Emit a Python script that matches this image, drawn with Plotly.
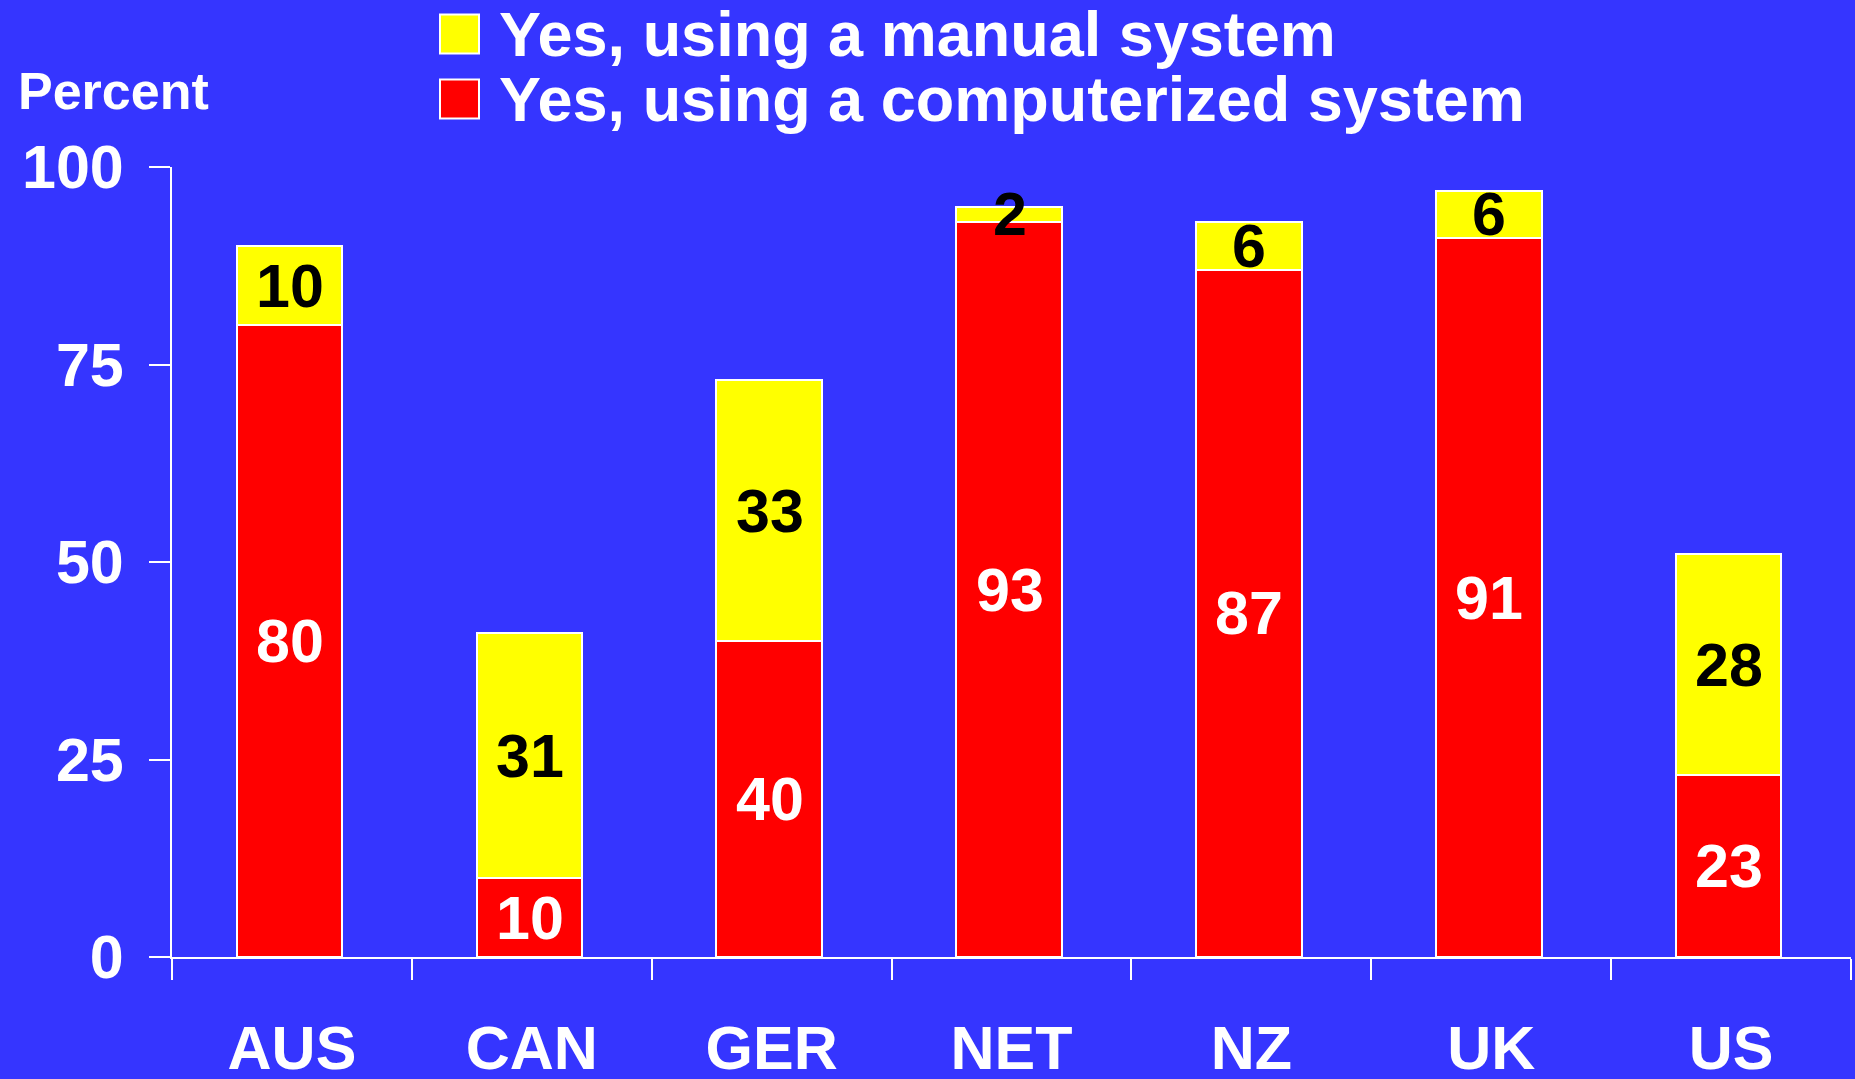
import plotly.graph_objects as go

categories = ["AUS", "CAN", "GER", "NET", "NZ", "UK", "US"]
computerized = [80, 10, 40, 93, 87, 91, 23]
manual = [10, 31, 33, 2, 6, 6, 28]
series_names = ["Yes, using a manual system", "Yes, using a computerized system"]
y_ticks = [0, 25, 50, 75, 100]
y_title = "Percent"

BG = "#3535FF"
RED = "#FF0000"
YELLOW = "#FFFF00"
FONT = "Arial, Liberation Sans, sans-serif"

W, H = 1855, 1079
ML, MR, MT, MB = 172, 4, 167, 122
PW = W - ML - MR
PH = H - MT - MB
BAR_W = 0.44
BAR_OFF = -0.23


def px_x(px):
    return (px - ML) / PW


def px_y(py):
    return (H - MB - py) / PH


fig = go.Figure()
fig.add_trace(go.Bar(
    x=categories, y=computerized, name=series_names[1],
    marker=dict(color=RED, line=dict(color="white", width=2)),
    width=BAR_W, offset=BAR_OFF, showlegend=False, hoverinfo="skip",
))
fig.add_trace(go.Bar(
    x=categories, y=manual, name=series_names[0],
    marker=dict(color=YELLOW, line=dict(color="white", width=2)),
    width=BAR_W, offset=BAR_OFF, showlegend=False, hoverinfo="skip",
))

annotations = []
for c, r, m in zip(categories, computerized, manual):
    annotations.append(dict(
        x=c, y=r / 2, xref="x", yref="y", text=str(r), showarrow=False,
        font=dict(family=FONT, size=61, color="white", weight="bold"),
        xanchor="center", yanchor="middle", xshift=-2,
    ))
    annotations.append(dict(
        x=c, y=r + m / 2, xref="x", yref="y", text=str(m), showarrow=False,
        font=dict(family=FONT, size=61, color="black", weight="bold"),
        xanchor="center", yanchor="middle", xshift=-2,
    ))

# y-axis title
annotations.append(dict(
    x=px_x(16), y=px_y(91), xref="paper", yref="paper", text=y_title,
    showarrow=False, xanchor="left", yanchor="middle",
    font=dict(family=FONT, size=52, color="white", weight="bold"),
))

# custom legend
shapes = []
legend_rows = [(series_names[0], YELLOW, 34), (series_names[1], RED, 99)]
for name, color, cy in legend_rows:
    shapes.append(dict(
        type="rect", xref="paper", yref="paper",
        x0=px_x(440), x1=px_x(479), y0=px_y(cy - 19.5), y1=px_y(cy + 19.5),
        fillcolor=color, line=dict(color="white", width=2),
    ))
    annotations.append(dict(
        x=px_x(497), y=px_y(cy), xref="paper", yref="paper", text=name,
        showarrow=False, xanchor="left", yanchor="middle",
        font=dict(family=FONT, size=63, color="white", weight="bold"),
    ))

fig.update_layout(
    barmode="stack",
    width=W, height=H,
    margin=dict(l=ML, r=MR, t=MT, b=MB, autoexpand=False),
    paper_bgcolor=BG, plot_bgcolor=BG,
    annotations=annotations, shapes=shapes,
    showlegend=False,
    font=dict(family=FONT, color="white"),
)
fig.update_xaxes(
    range=[-0.5, 6.5], showline=True, linecolor="white", linewidth=2,
    ticks="outside", tickson="boundaries", ticklen=21, tickwidth=2, tickcolor="white",
    showgrid=False, zeroline=False,
    tickfont=dict(family=FONT, size=61, color="white", weight="bold"),
    ticklabelstandoff=37,
)
fig.update_yaxes(
    range=[0, 100], tickvals=y_ticks, showline=True, linecolor="white", linewidth=2,
    ticks="outside", ticklen=21, tickwidth=2, tickcolor="white",
    showgrid=False, zeroline=False,
    tickfont=dict(family=FONT, size=61, color="white", weight="bold"),
    ticklabelstandoff=13,
)

fig.write_html("out.html", config={"displayModeBar": False})
